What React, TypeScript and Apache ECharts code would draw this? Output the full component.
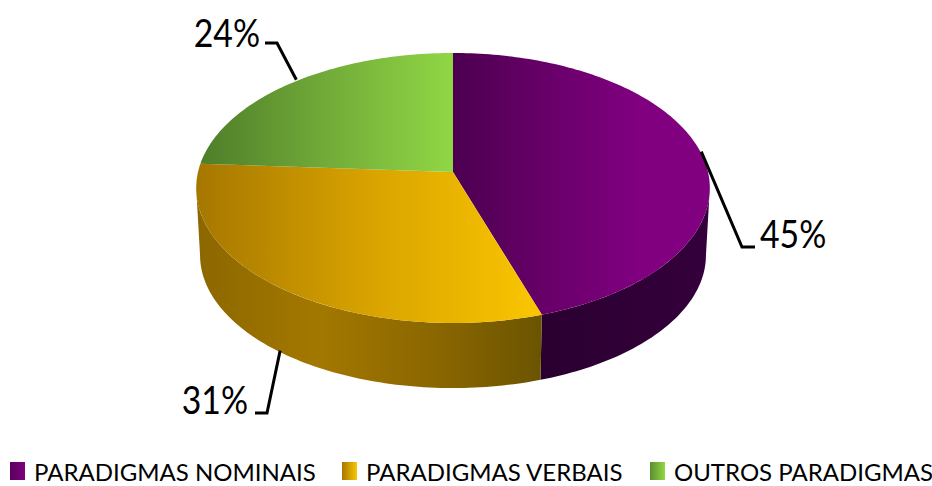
import React, { useEffect, useRef } from "react";
import * as echarts from "echarts";

const sliceNames = ["PARADIGMAS NOMINAIS", "PARADIGMAS VERBAIS", "OUTROS PARADIGMAS"];
const sliceValues = [45, 31, 24];

const FONT = "Lato, 'Open Sans', sans-serif";
const TOTAL = sliceValues.reduce((a, b) => a + b, 0);

// Disc projection: a tilted circle seen in perspective
const APEX = { x: 453, y: 172 };
const AX = 255;
const BY = 133.1;
const K = 0.1186;
const DEPTH = 67.3;
const BOTTOM_SCALE = 0.985;
const SIL_A = Math.acos(-K);
const SIL_B = 2 * Math.PI - SIL_A;

const lin = (stops: [number, string][]) => ({
  type: "linear",
  x: 0,
  y: 0,
  x2: 1,
  y2: 0,
  colorStops: stops.map(([offset, color]) => ({ offset, color })),
});

const topFills = [
  lin([[0, "#4c0050"], [0.35, "#670068"], [0.72, "#800080"], [1, "#800080"]]),
  lin([[0, "#a67700"], [0.5, "#d8a300"], [1, "#fbc600"]]),
  lin([[0, "#4e7d29"], [0.5, "#72ab39"], [1, "#90d745"]]),
];
const wallFills = [
  lin([[0, "#2a0030"], [1, "#35003c"]]),
  lin([[0, "#8c6700"], [0.35, "#a37800"], [0.7, "#8a6600"], [1, "#6b5400"]]),
  lin([[0, "#3c5f20"], [1, "#3c5f20"]]),
];
const legendFills = [
  lin([[0, "#5a005c"], [1, "#800080"]]),
  lin([[0, "#a67700"], [1, "#fbc600"]]),
  lin([[0, "#5b8f2f"], [1, "#90d745"]]),
];

const legendLefts = [10, 342, 650];

// per slice: nudge from the rim point, elbow and stub ends, label anchor
const leaders = [
  { wall: false, nudge: [1, 0], elbow: [742, 247], stub: [755, 247], label: [760, 233], align: "left" },
  { wall: true, nudge: [-3, -3], elbow: [267, 413], stub: [255, 413], label: [248, 399], align: "right" },
  { wall: false, nudge: [4, -3], elbow: [277, 43], stub: [265, 43], label: [260, 32], align: "right" },
];

function project(theta: number, bottom: boolean): [number, number] {
  const s = Math.sin(theta);
  const c = Math.cos(theta);
  const w = 1 + K * c;
  const sc = bottom ? BOTTOM_SCALE : 1;
  return [
    APEX.x + (sc * AX * s) / w,
    APEX.y + (bottom ? DEPTH : 0) - (sc * BY * c) / w,
  ];
}

function arc(a: number, b: number, bottom: boolean): [number, number][] {
  const n = Math.max(2, Math.ceil(Math.abs(b - a) / 0.02));
  const pts: [number, number][] = [];
  for (let i = 0; i <= n; i++) pts.push(project(a + ((b - a) * i) / n, bottom));
  return pts;
}

function renderSlice(index: number) {
  return (_params: any, api: any) => {
    const value = api.value(0);
    const before = sliceValues.slice(0, index).reduce((a, b) => a + b, 0);
    const a0 = (before / TOTAL) * 2 * Math.PI;
    const a1 = ((before + value) / TOTAL) * 2 * Math.PI;
    const mid = (a0 + a1) / 2;
    const children: any[] = [];

    const wa = Math.max(a0, SIL_A);
    const wb = Math.min(a1, SIL_B);
    if (wb > wa) {
      children.push({
        type: "polygon",
        z2: 1,
        shape: { points: [...arc(wa, wb, false), ...arc(wb, wa, true)] },
        style: { fill: wallFills[index] },
      });
    }
    children.push({
      type: "polygon",
      z2: 2,
      shape: { points: [[APEX.x, APEX.y], ...arc(a0, a1, false)] },
      style: { fill: topFills[index] },
    });

    const ld = leaders[index];
    const rim = project(mid, ld.wall);
    const start = [rim[0] + ld.nudge[0], rim[1] + ld.nudge[1]];
    children.push({
      type: "polyline",
      z2: 3,
      shape: { points: [start, ld.elbow, ld.stub] },
      style: { stroke: "#000000", lineWidth: 3, fill: "none" },
    });
    children.push({
      type: "text",
      z2: 4,
      x: ld.label[0],
      y: ld.label[1],
      scaleX: 0.89,
      style: {
        text: `${Math.round((value / TOTAL) * 100)}%`,
        x: 0,
        y: 0,
        fill: "#000000",
        font: `38px ${FONT}`,
        align: ld.align,
        verticalAlign: "middle",
      },
    });
    return { type: "group", children };
  };
}

export default function App() {
  const ref = useRef<HTMLDivElement>(null);
  useEffect(() => {
    const chart = echarts.init(ref.current!, undefined, { renderer: "svg" });
    chart.setOption({
      animation: false,
      backgroundColor: "#ffffff",
      legend: sliceNames.map((name, i) => ({
        left: legendLefts[i],
        top: 459,
        padding: 0,
        selectedMode: false,
        icon: "rect",
        itemWidth: 15,
        itemHeight: 18,
        textStyle: {
          fontFamily: FONT,
          fontSize: 24,
          color: "#000000",
          padding: [0, 0, 0, 4],
        },
        data: [{ name, icon: "rect", itemStyle: { color: legendFills[i] } }],
      })),
      series: sliceNames.map((name, i) => ({
        type: "custom",
        name,
        coordinateSystem: "none",
        silent: true,
        renderItem: renderSlice(i),
        data: [[sliceValues[i]]],
      })),
    });
    return () => chart.dispose();
  }, []);
  return (
    <div
      ref={ref}
      style={{ position: "fixed", left: 0, top: 0, width: 932, height: 486 }}
    />
  );
}
